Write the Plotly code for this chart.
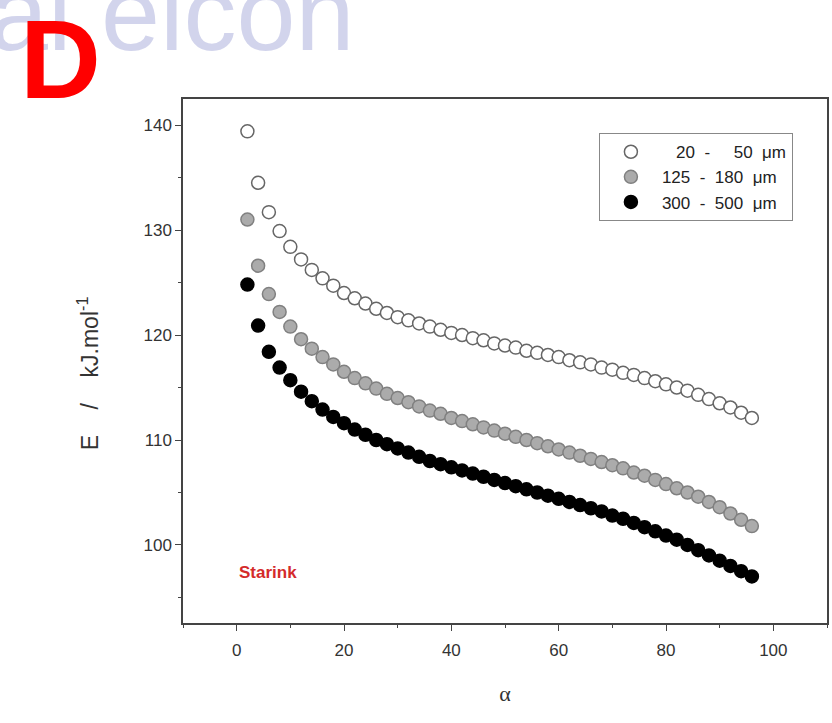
import plotly.graph_objects as go

alpha = [2, 4, 6, 8, 10, 12, 14, 16, 18, 20, 22, 24, 26, 28, 30, 32, 34, 36, 38, 40,
         42, 44, 46, 48, 50, 52, 54, 56, 58, 60, 62, 64, 66, 68, 70, 72, 74, 76, 78, 80,
         82, 84, 86, 88, 90, 92, 94, 96]

E_20_50 = [139.4, 134.5, 131.7, 129.9, 128.4, 127.2, 126.2, 125.4, 124.7, 124.0,
           123.5, 123.0, 122.5, 122.1, 121.7, 121.4, 121.1, 120.8, 120.5, 120.2,
           120.0, 119.7, 119.5, 119.2, 119.0, 118.8, 118.5, 118.3, 118.1, 117.9,
           117.6, 117.4, 117.2, 116.9, 116.7, 116.4, 116.2, 115.9, 115.6, 115.3,
           115.0, 114.7, 114.3, 113.9, 113.5, 113.1, 112.6, 112.1]

E_125_180 = [131.0, 126.6, 123.9, 122.2, 120.8, 119.6, 118.7, 117.9, 117.2, 116.5,
             115.9, 115.4, 114.9, 114.4, 114.0, 113.6, 113.2, 112.8, 112.5, 112.1,
             111.8, 111.5, 111.2, 110.9, 110.6, 110.3, 110.0, 109.7, 109.4, 109.1,
             108.8, 108.5, 108.2, 107.9, 107.6, 107.3, 106.9, 106.6, 106.2, 105.8,
             105.4, 105.0, 104.6, 104.1, 103.6, 103.0, 102.4, 101.8]

E_300_500 = [124.8, 120.9, 118.4, 116.9, 115.7, 114.6, 113.7, 112.9, 112.2, 111.6,
             111.0, 110.5, 110.0, 109.6, 109.2, 108.8, 108.4, 108.0, 107.7, 107.4,
             107.1, 106.8, 106.5, 106.2, 105.9, 105.6, 105.3, 105.0, 104.7, 104.4,
             104.1, 103.8, 103.5, 103.2, 102.8, 102.5, 102.1, 101.7, 101.3, 100.9,
             100.5, 100.0, 99.5, 99.0, 98.5, 98.0, 97.5, 97.0]

nb = "\u00a0"
names = [f"{nb}{nb}{nb}20{nb}{nb}-{nb}{nb}{nb}{nb}{nb}50{nb}{nb}\u03bcm",
         f"125{nb}{nb}-{nb}{nb}180{nb}{nb}\u03bcm",
         f"300{nb}{nb}-{nb}{nb}500{nb}{nb}\u03bcm"]
series = [E_20_50, E_125_180, E_300_500]
fills = ["#ffffff", "#ababab", "#000000"]
lines = ["#666666", "#808080", "#000000"]

fig = go.Figure()
for i, (nm, ys, fc, lc) in enumerate(zip(names, series, fills, lines)):
    fig.add_trace(go.Scatter(
        x=alpha, y=ys, mode="markers", name=nm, legendgroup=f"g{i}",
        marker=dict(size=13, color=fc, line=dict(color=lc, width=1.5)),
    ))

axis_common = dict(
    showgrid=False, zeroline=False, showline=True, linecolor="#444444", linewidth=1.5,
    mirror=True, ticks="outside", ticklen=6, tickwidth=1.2, tickcolor="#444444",
    tickfont=dict(family="Arial, Liberation Sans", size=17, color="#333333"),
)

fig.update_xaxes(
    range=[-10, 110], tickvals=[0, 20, 40, 60, 80, 100], ticklabelstandoff=5,
    minor=dict(dtick=10, tick0=0, ticks="outside", ticklen=3, tickcolor="#444444"),
    title=dict(text="\u03b1", font=dict(family="Liberation Serif, Times New Roman", size=22, color="#333333"),
               standoff=26),
    **axis_common,
)
fig.update_yaxes(
    range=[92.57, 142.48], tickvals=[100, 110, 120, 130, 140],
    minor=dict(dtick=5, tick0=0, ticks="outside", ticklen=3, tickcolor="#444444"),
    **axis_common,
)

# y-axis title as a rotated annotation for precise placement
fig.add_annotation(x=(88 - 183) / 646, y=(623 - 373) / 524, xref="paper", yref="paper",
                   text=f"E{nb}{nb}{nb}{nb}/{nb}{nb}{nb}{nb}kJ.mol<sup>-1</sup>", textangle=-90,
                   showarrow=False, xanchor="center", yanchor="middle",
                   font=dict(family="Arial, Liberation Sans", size=23, color="#333333"))

# faint watermark at top (drawn first, behind the panel letter)
fig.add_annotation(x=(-14 - 183) / 646, y=(623 - 74) / 524, xref="paper", yref="paper",
                   text="ai elcon", showarrow=False, xanchor="left", yanchor="bottom",
                   font=dict(family="Arial, Liberation Sans", size=106, color="rgba(165,170,218,0.5)"))

fig.add_annotation(x=0, y=97.4, xref="x", yref="y", text="<b>Starink</b>", showarrow=False,
                   xanchor="left", yanchor="middle",
                   font=dict(family="Arial, Liberation Sans", size=17, color="#d42a2a"))

# panel letter
fig.add_annotation(x=(17 - 183) / 646, y=(623 - 124) / 524, xref="paper", yref="paper",
                   text="<b>D</b>", showarrow=False, xanchor="left", yanchor="bottom",
                   font=dict(family="Arial, Liberation Sans", size=112, color="#ff0000"))

fig.update_layout(
    width=832, height=723,
    margin=dict(l=183, r=3, t=99, b=100),
    paper_bgcolor="white", plot_bgcolor="white",
    showlegend=True,
    legend=dict(x=(600 - 183) / 646, y=(623 - 133) / 524, xanchor="left", yanchor="top",
                bordercolor="#888888", borderwidth=1.2, bgcolor="white",
                font=dict(family="Arial, Liberation Sans", size=17, color="#222222"),
                traceorder="grouped", tracegroupgap=0, itemwidth=52),
)

fig.write_html("out.html")
